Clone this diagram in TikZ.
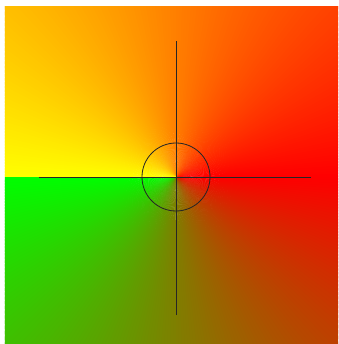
\documentclass[tikz,border=0pt]{standalone}
\usetikzlibrary{calc}

\begin{document}
\begin{tikzpicture}[
  x=0.03cm, y=0.03cm,
  axisline/.style={draw=black!85, line width=0.7pt},
  ring/.style={draw=black!85, line width=0.7pt},
]

%% Frame (white margin left and top)
\useasboundingbox (-176,-167) rectangle (162,177);
\fill[white] (-176,-167) rectangle (162,177);

\coordinate (o) at (0,0);

%% Phase colouring: green -> red below, red -> yellow above
\begin{scope}
  \clip (-171,-167) rectangle (162,170);
  \foreach \a in {-180,-179,...,179}{
    \pgfmathtruncatemacro\r{\a<0 ? (\a+180.5)*1.41667 : 255}
    \pgfmathtruncatemacro\g{min(255,abs(\a+0.5)*1.41667)}
    \pgfmathsetmacro\e{min(\a+1.6,180)}
    \definecolor{phase}{RGB}{\r,\g,0}
    \fill[phase] (o) -- (\a:320) -- (\e:320) -- cycle;
  }
\end{scope}

%% Axes
\coordinate (xl) at (-137,0);
\coordinate (xr) at (135,0);
\coordinate (yb) at (0,-138);
\coordinate (yt) at (0,136);
\draw[axisline] (xl) -- (xr);
\draw[axisline] (yb) -- (yt);

%% Unit circle
\draw[ring] (o) circle (34);

\end{tikzpicture}
\end{document}
